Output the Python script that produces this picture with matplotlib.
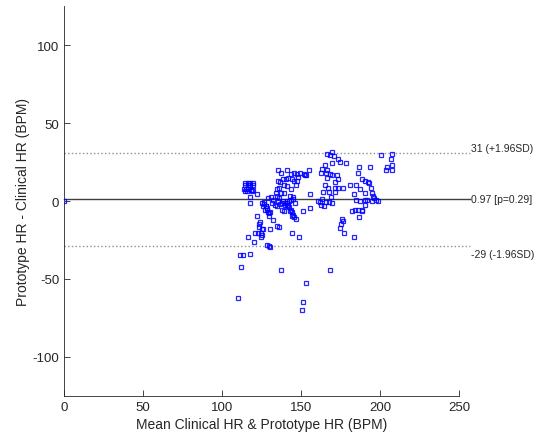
import matplotlib.pyplot as plt
import numpy as np

plt.rcParams['font.family'] = ['Liberation Sans', 'DejaVu Sans']
plt.rcParams['axes.unicode_minus'] = False

# mean of clinical & prototype HR (BPM) and their difference (prototype - clinical)
mean_hr = [
    0.0,
    # left cluster
    114.6, 116.2, 117.7, 119.4, 114.6, 116.2, 117.7, 119.4,
    113.9, 115.2, 116.7, 118.4, 119.4, 114.6, 116.0, 118.8,
    122.2, 117.5, 117.7,
    # lower left
    121.9, 124.1, 123.6, 123.4, 125.5, 120.9, 122.6, 124.7, 125.1,
    116.7, 124.7, 120.5, 128.3, 129.8, 130.2,
    111.6, 113.1, 117.7, 112.0, 109.9,
    137.6, 168.4, 153.0, 151.1, 150.4,
    # first diagonal band
    125.1, 126.6, 127.6, 126.6, 127.8, 128.7, 128.3, 129.3, 130.0, 130.4, 130.0, 126.2, 127.1,
    # second diagonal band
    140.9, 142.0, 142.6, 143.5, 144.1, 144.7, 145.6, 146.6, 139.9, 141.4, 143.0, 144.1,
    # middle upper
    135.7, 137.4, 140.9, 143.7, 145.6, 147.3, 149.4, 151.9, 153.2, 154.9, 152.5,
    135.7, 136.7, 138.4, 140.3, 142.0, 144.1, 145.4, 147.5, 148.3, 146.8, 143.5,
    140.9, 139.5, 136.3, 134.6, 134.2, 135.0, 136.1, 137.4, 139.2, 143.0, 144.7, 155.7,
    # middle around zero
    129.3, 130.8, 132.5, 131.4, 133.6, 134.6, 135.7, 136.7, 137.8, 138.8, 139.9, 141.4,
    142.6, 143.7, 145.2, 146.2,
    132.1, 134.6, 136.1, 130.2, 126.2,
    137.8, 139.2, 151.1, 155.9, 144.1, 148.5,
    # right cluster
    169.4, 166.3, 168.4, 170.9, 173.2, 174.5, 169.4, 178.3, 166.3, 163.1, 165.2, 162.7,
    165.6, 168.4, 169.8, 172.6, 173.2, 171.5, 166.3, 165.2, 167.3, 171.5, 173.6, 176.8,
    181.0, 164.1, 167.9, 171.5, 169.0, 165.8, 169.8, 167.7, 162.0, 160.6, 163.5, 162.5, 164.8,
    186.9, 186.3, 193.9, 200.6, 207.4, 206.8, 207.8, 204.2, 203.6, 207.4,
    188.8, 190.5, 192.2, 193.0, 184.8, 187.4, 183.6, 190.5, 194.3, 195.2, 195.8, 196.4,
    197.3, 198.5, 190.5, 192.0, 194.7, 184.6, 187.4,
    182.1, 184.2, 186.3, 188.8, 190.5, 188.8, 186.9, 175.8, 176.8, 175.1, 174.7, 177.2, 183.3,
]
diff_hr = [
    0.0,
    11.7, 11.7, 11.7, 11.7, 10.2, 10.2, 10.2, 10.2,
    7.8, 7.4, 7.8, 7.0, 6.8, 6.3, 6.3, 6.3,
    4.6, 2.7, -1.2,
    -9.3, -13.4, -14.5, -16.6, -17.9, -20.5, -20.5, -20.5, -21.6,
    -23.3, -23.3, -26.3, -28.0, -28.6, -29.7,
    -34.6, -34.6, -33.8, -42.6, -62.5,
    -44.3, -44.3, -52.6, -64.6, -69.8,
    -1.2, -1.6, -2.9, -0.8, -3.3, -4.4, -5.9, -7.2, -8.0, -7.2, -9.3, -3.3, -5.5,
    -0.1, -2.3, -4.0, -5.5, -7.2, -8.7, -10.2, -11.5, -1.2, -3.3, -6.1, -9.3,
    19.8, 18.1, 19.8, 17.0, 18.1, 17.5, 18.1, 17.5, 16.4, 19.6, 16.4,
    12.7, 12.3, 13.8, 14.2, 14.9, 14.2, 12.7, 12.7, 15.5, 10.0, 8.0,
    9.5, 10.0, 8.5, 7.4, 5.2, 3.5, 2.0, 5.2, 5.2, 3.5, 2.7, 4.6,
    2.0, 2.7, 0.9, -1.2, -2.3, -3.3, -0.1, -1.6, -1.2, -0.1, -2.3, -1.2,
    -0.1, 0.9, 1.4, -1.2,
    -11.9, -15.8, -16.6, -17.9, -17.9,
    -5.5, -6.1, -6.1, -4.4, -20.3, -23.3,
    31.6, 29.9, 29.3, 28.8, 26.7, 25.2, 24.5, 24.5, 19.8, 20.7, 22.8, 17.7,
    18.1, 17.5, 16.4, 16.6, 13.8, 12.1, 14.9, 10.2, 8.5, 8.5, 8.5, 8.5,
    10.0, 5.7, 5.7, 5.7, 2.7, -0.8, -1.2, -0.8, -0.8, -0.1, 1.4, -2.3, -3.3,
    21.5, 18.1, 21.5, 29.3, 29.9, 26.7, 22.8, 21.5, 19.8, 19.6,
    14.2, 12.7, 12.1, 11.7, 10.0, 7.4, 4.8, 5.2, 8.5, 5.2, 3.5, 2.0,
    0.6, -0.1, 0.9, 0.6, 0.3, 0.9, -0.1,
    -6.1, -5.5, -5.5, -5.5, -2.3, -6.1, -10.4, -11.5, -12.5, -14.5, -17.5, -20.3, -23.3,
]

mean_diff = 0.97
upper_loa = 31
lower_loa = -29

fig = plt.figure(figsize=(5.34, 4.39), dpi=100)
ax = fig.add_axes([0.1199, 0.0957, 0.7397, 0.8883])

ax.plot(mean_hr, diff_hr, 's', markersize=3.4, markerfacecolor='none',
        markeredgecolor='blue', markeredgewidth=0.9, alpha=0.85, zorder=3)

x_end = 257
grey = '#262626'
ax.plot([0, x_end], [mean_diff, mean_diff], '-', color='#404040', lw=1.0, clip_on=False)
ax.plot([0, x_end], [upper_loa, upper_loa], ':', color='#909090', lw=1.0, clip_on=False)
ax.plot([0, x_end], [lower_loa, lower_loa], ':', color='#909090', lw=1.0, clip_on=False)

ax.text(x_end + 0.5, upper_loa, '31 (+1.96SD)', fontsize=7.5, color=grey, va='bottom', ha='left')
ax.text(x_end + 0.5, mean_diff, '0.97 [p=0.29]', fontsize=7.5, color=grey, va='center', ha='left')
ax.text(x_end + 0.5, lower_loa - 2, '-29 (-1.96SD)', fontsize=7.5, color=grey, va='top', ha='left')

ax.set_xlim(0, 250)
ax.set_ylim(-125, 125)
ax.set_xticks(np.arange(0, 251, 50))
ax.set_yticks([-100, -50, 0, 50, 100])
ax.tick_params(direction='in', length=4, width=0.6, colors=grey, labelsize=9.5)
for side in ['top', 'right']:
    ax.spines[side].set_visible(False)
for side in ['left', 'bottom']:
    ax.spines[side].set_color(grey)
    ax.spines[side].set_linewidth(0.6)

ax.set_xlabel('Mean Clinical HR & Prototype HR (BPM)', fontsize=10, color=grey, labelpad=3)
ax.set_ylabel('Prototype HR - Clinical HR (BPM)', fontsize=10, color=grey, labelpad=2)

fig.savefig('out.png', dpi=100)
